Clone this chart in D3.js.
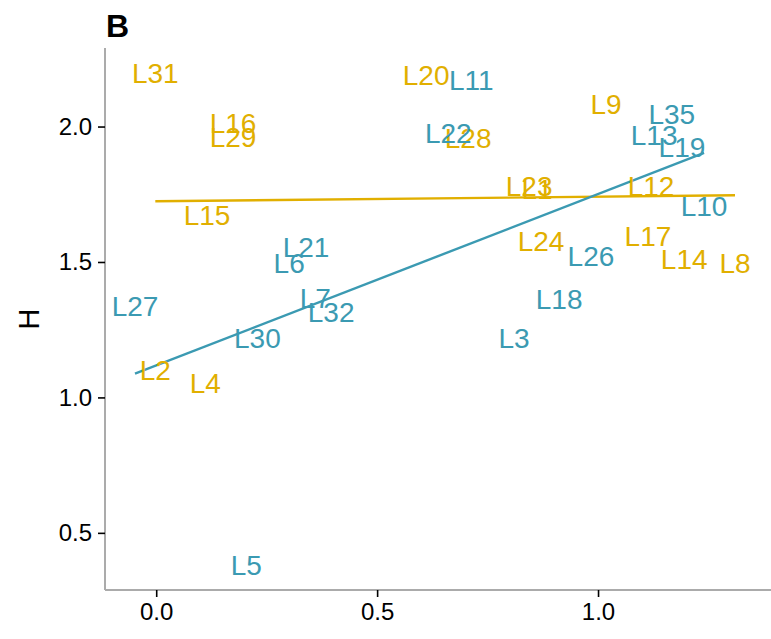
<!DOCTYPE html>
<html>
<head>
<meta charset="utf-8">
<script src="https://cdn.jsdelivr.net/npm/d3@7"></script>
<style>
  html, body { margin: 0; padding: 0; background: #fff; }
  svg { display: block; font-family: "Liberation Sans", Arial, Helvetica, sans-serif; }
</style>
</head>
<body>
<svg id="chart" width="771" height="639"></svg>
<script>
// Group A (gold) labelled points
const goldLabels = ["L31","L16","L29","L15","L20","L28","L9","L23","L1","L12","L24","L17","L14","L8","L2","L4"];
const goldX = [-0.002,0.174,0.174,0.115,0.611,0.706,1.018,0.844,0.862,1.120,0.871,1.113,1.195,1.310,-0.002,0.111];
const goldY = [2.199,2.015,1.963,1.672,2.192,1.959,2.085,1.779,1.771,1.782,1.579,1.598,1.513,1.498,1.103,1.052];

// Group B (teal) labelled points
const tealLabels = ["L11","L22","L35","L13","L19","L10","L21","L6","L26","L27","L7","L32","L18","L30","L3","L5"];
const tealX = [0.713,0.661,1.167,1.127,1.190,1.240,0.339,0.301,0.984,-0.048,0.360,0.396,0.912,0.229,0.810,0.204];
const tealY = [2.173,1.978,2.048,1.970,1.926,1.708,1.554,1.498,1.524,1.339,1.369,1.317,1.362,1.218,1.221,0.380];

const xTicks = [0.0, 0.5, 1.0];
const yTicks = [0.5, 1.0, 1.5, 2.0];

const groups = [
  { name: "gold", color: "#E1AF00", labels: goldLabels, xs: goldX, ys: goldY },
  { name: "teal", color: "#3B9AB2", labels: tealLabels, xs: tealX, ys: tealY }
];

const svg = d3.select("#chart");
const margin = { left: 105, right: 6, top: 48, bottom: 49 };
const W = 771, H = 639;

const allX = goldX.concat(tealX), allY = goldY.concat(tealY);
const pad = (ext) => { const d = (ext[1] - ext[0]) * 0.05; return [ext[0] - d, ext[1] + d]; };

const x = d3.scaleLinear().domain(pad(d3.extent(allX))).range([margin.left, W - margin.right]);
const y = d3.scaleLinear().domain(pad(d3.extent(allY))).range([H - margin.bottom, margin.top]);

// least-squares fit per group
function fit(xs, ys) {
  const mx = d3.mean(xs), my = d3.mean(ys);
  let sxy = 0, sxx = 0;
  xs.forEach((v, i) => { sxy += (v - mx) * (ys[i] - my); sxx += (v - mx) * (v - mx); });
  const b = sxy / sxx, a = my - b * mx;
  const [x0, x1] = d3.extent(xs);
  return [[x0, a + b * x0], [x1, a + b * x1]];
}

// axes
const xAxis = svg.append("g")
  .attr("transform", `translate(0,${H - margin.bottom})`)
  .call(d3.axisBottom(x).tickValues(xTicks).tickFormat(d3.format(".1f")).tickSize(7).tickPadding(6));
const yAxis = svg.append("g")
  .attr("transform", `translate(${margin.left},0)`)
  .call(d3.axisLeft(y).tickValues(yTicks).tickFormat(d3.format(".1f")).tickSize(7).tickPadding(6));

[xAxis, yAxis].forEach(g => {
  g.select(".domain").attr("stroke", "#ababab").attr("stroke-width", 2);
  g.selectAll(".tick line").attr("stroke", "#000").attr("stroke-width", 1.6);
  g.selectAll(".tick text").attr("fill", "#000").style("font-size", "24px");
});
xAxis.select(".domain").attr("d", `M${margin.left},0H${W}`);
yAxis.select(".domain").attr("d", `M0,${margin.top}V${H - margin.bottom}`);

// regression lines
const line = d3.line().x(d => x(d[0])).y(d => y(d[1]));
groups.forEach(g => {
  svg.append("path")
    .datum(fit(g.xs, g.ys))
    .attr("d", line)
    .attr("fill", "none")
    .attr("stroke", g.color)
    .attr("stroke-width", 2.4);
});

// point labels
groups.forEach(g => {
  svg.append("g").selectAll("text")
    .data(g.labels.map((l, i) => ({ l, x: g.xs[i], y: g.ys[i] })))
    .join("text")
    .attr("x", d => x(d.x))
    .attr("y", d => y(d.y))
    .attr("dy", "0.36em")
    .attr("text-anchor", "middle")
    .attr("fill", g.color)
    .style("font-size", "28px")
    .text(d => d.l);
});

// y axis title
svg.append("text")
  .attr("transform", `translate(29,${(margin.top + H - margin.bottom) / 2}) rotate(-90)`)
  .attr("text-anchor", "middle")
  .attr("dy", "0.36em")
  .style("font-size", "29px")
  .text("H");

// panel tag
svg.append("text")
  .attr("x", 106)
  .attr("y", 37)
  .style("font-size", "32px")
  .style("font-weight", "bold")
  .text("B");
</script>
</body>
</html>
